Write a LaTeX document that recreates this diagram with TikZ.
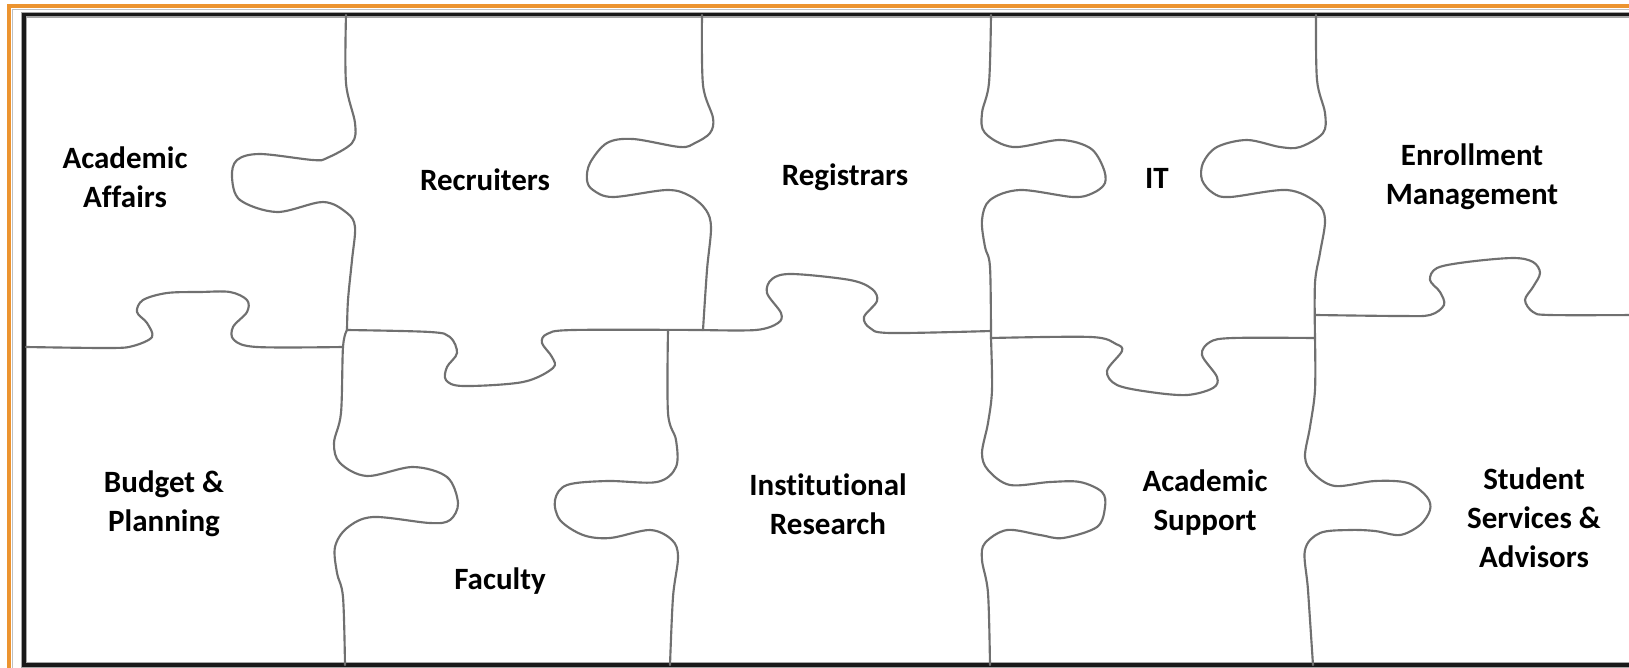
\documentclass[tikz,border=0pt]{standalone}
\usepackage{fontspec}
\setmainfont{Carlito}[RawFeature={-liga;-clig;-dlig}]
\definecolor{frameorange}{RGB}{236,148,48}
\definecolor{piecegray}{RGB}{112,112,112}
\tikzset{
  piece/.style={draw=piecegray, line width=1.6pt, line join=round, line cap=round},
  lbl/.style={inner sep=0pt, align=center, font=\fontsize{23.25}{29.25}\selectfont\bfseries, text=black},
}
\begin{document}
\begin{tikzpicture}[x=0.75pt,y=-0.75pt]
\useasboundingbox (0,0) rectangle (1629,668);
\clip (0,0) rectangle (1629,668);
\fill[white] (0,0) rectangle (1629,668);
% orange outer border (top and left)
\draw[frameorange, line width=3pt] (1640,6) -- (8.5,6) -- (8.5,680);
\draw[black!25, line width=0.6pt] (1640,9) -- (12,9) -- (12,680);
% black frame
\draw[black!35, line width=4.5pt] (1640,14.5) -- (24,14.5) -- (24,665) -- (1640,665);
\draw[black!90, line width=2.6pt] (1640,14.5) -- (24,14.5) -- (24,665) -- (1640,665);
% vertical seams
\draw[piece] plot[smooth, tension=0.55] coordinates {(346,15) (346,83) (355,123) (352,143) (327,158) (313,160) (260,154) (237,160) (232,177) (240,200) (277,212) (323,202) (347,213) (355,227) (352,260) (348,300) (347,330)};
\draw[piece] plot[smooth, tension=0.55] coordinates {(347,330) (343,347) (341,413) (334,443) (340,463) (367,476) (413,467) (447,477) (458,503) (450,520) (430,523) (373,517) (347,528) (335,547) (337,573) (343,597) (345,665)};
\draw[piece] plot[smooth, tension=0.55] coordinates {(702,15) (703,85) (713,118) (710,133) (695,143) (680,147) (633,139) (607,143) (590,163) (587,180) (593,190) (613,197) (667,190) (690,196) (706,210) (711,228) (707,270) (703,330)};
\draw[piece] plot[smooth, tension=0.55] coordinates {(668,330) (668,413) (676,440) (676,467) (657,482) (607,481) (567,485) (555,500) (560,520) (583,535) (610,538) (650,530) (672,540) (678,557) (673,597) (670,665)};
\draw[piece] plot[smooth, tension=0.55] coordinates {(991,15) (989,83) (982,113) (985,133) (1013,147) (1060,140) (1090,148) (1103,167) (1105,183) (1093,193) (1073,197) (1020,190) (990,200) (982,220) (985,247) (990,267) (991,338)};
\draw[piece] plot[smooth, tension=0.55] coordinates {(991,338) (992,390) (988,423) (982,453) (988,470) (1010,485) (1050,482) (1080,482) (1102,492) (1105,507) (1097,527) (1063,538) (1040,535) (1007,530) (985,543) (982,560) (988,593) (990,665)};
\draw[piece] plot[smooth, tension=0.55] coordinates {(1316,15) (1317,80) (1325,113) (1323,133) (1300,147) (1280,147) (1247,140) (1217,147) (1203,163) (1202,180) (1213,193) (1230,197) (1287,190) (1317,203) (1325,220) (1320,253) (1315,283) (1315,338)};
\draw[piece] plot[smooth, tension=0.55] coordinates {(1315,338) (1315,390) (1310,427) (1305,457) (1313,473) (1335,486) (1375,481) (1408,483) (1427,497) (1430,510) (1420,525) (1400,535) (1375,531) (1350,530) (1320,533) (1305,550) (1308,590) (1313,665)};
% horizontal seams
\draw[piece] plot[smooth, tension=0.55] coordinates {(26,347) (110,348) (133,346) (152,337) (147,323) (137,312) (143,300) (167,293) (200,292) (230,292) (247,300) (247,312) (233,327) (234,340) (257,347) (343,347)};
\draw[piece] plot[smooth, tension=0.55] coordinates {(347,330) (430,332) (450,337) (457,353) (447,367) (446,380) (463,386) (523,382) (553,368) (552,357) (542,343) (547,334) (573,330) (702,330)};
\draw[piece] plot[smooth, tension=0.55] coordinates {(702,330) (756,330) (778,323) (781,313) (767,293) (772,279) (792,274) (850,280) (872,289) (877,301) (864,317) (870,328) (890,333) (991,331)};
\draw[piece] plot[smooth, tension=0.55] coordinates {(991,338) (1091,337) (1116,344) (1122,351) (1107,371) (1117,385) (1150,392) (1187,395) (1213,388) (1217,377) (1202,355) (1210,342) (1233,338) (1315,338)};
\draw[piece] plot[smooth, tension=0.55] coordinates {(1316,315) (1400,316) (1430,315) (1444,305) (1440,292) (1430,280) (1437,268) (1467,262) (1513,258) (1533,262) (1540,273) (1533,287) (1525,300) (1533,312) (1550,315) (1635,315)};
% labels
\node[lbl] (acaff) at (125,177) {Academic\\Affairs};
\node[lbl] (recr) at (485,180) {Recruiters};
\node[lbl] (regi) at (845,177) {Registrars};
\node[lbl] (it) at (1157,178) {IT};
\node[lbl] (enrol) at (1472,177) {Enrollment\\Management};
\node[lbl] (budget) at (164,504) {Budget \&\\Planning};
\node[lbl] (fac) at (500,581) {Faculty};
\node[lbl] (inst) at (828,504) {Institutional\\Research};
\node[lbl] (acsup) at (1205,503) {Academic\\Support};
\node[lbl] (stud) at (1534,518) {Student\\Services \&\\Advisors};
\end{tikzpicture}
\end{document}
